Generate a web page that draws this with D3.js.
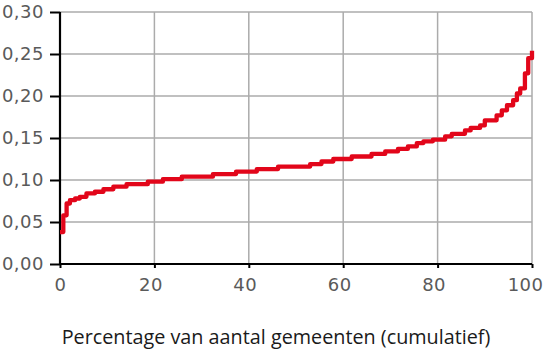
<!doctype html>
<html>
  <head>
    <script src="https://cdnjs.cloudflare.com/ajax/libs/d3/7.8.5/d3.min.js"></script>
    <style>
      body { margin: 0; background: #fff; }
    </style>
  </head>
  <body>
    <svg id="chart" width="544" height="356"></svg>
    <script>
        // cumulative % of municipalities (x) and value (y), step points
        var pct = [0, 0.7, 1.4, 2.1, 3.2, 4.2, 5.6, 7.4, 9.2, 11.3, 14.1, 18.6, 21.8, 25.8, 32.4, 37.3, 41.7, 46.2,
                   53.0, 55.4, 57.9, 61.8, 66.0, 68.9, 71.6, 73.7, 75.6, 77.0, 79.0, 81.6, 83.0, 85.8, 87.0, 89.0,
                   90.0, 92.5, 93.6, 94.7, 96.0, 96.8, 97.5, 98.5, 99.2, 100];
        var vals = [0.038, 0.058, 0.072, 0.076, 0.078, 0.080, 0.084, 0.086, 0.089, 0.092, 0.095, 0.098, 0.101, 0.104, 0.107, 0.110, 0.113, 0.116,
                    0.119, 0.122, 0.125, 0.128, 0.131, 0.134, 0.137, 0.140, 0.144, 0.146, 0.148, 0.152, 0.155, 0.159, 0.162, 0.165,
                    0.171, 0.177, 0.183, 0.189, 0.195, 0.203, 0.209, 0.227, 0.245, 0.254];
        var xTicks = [0, 20, 40, 60, 80, 100];
        var yTicks = [0, 0.05, 0.10, 0.15, 0.20, 0.25, 0.30];
        var xTitle = "Percentage van aantal gemeenten (cumulatief)";

        var svg = d3.select("#chart");
        var mLeft = 60, mRight = 532, mTop = 12, mBottom = 264;

        var xScale = d3.scaleLinear().domain([0, 100]).range([mLeft, mRight]);
        var yScale = d3.scaleLinear().domain([0, 0.30]).range([mBottom, mTop]);
        var fmt = d3.format(".2f");

        // grid
        svg.append("g").selectAll("line")
            .data(yTicks.slice(1))
            .enter().append("line")
            .attr("x1", mLeft).attr("x2", mRight)
            .attr("y1", d => yScale(d)).attr("y2", d => yScale(d))
            .attr("stroke", "#ababab").attr("stroke-width", 1.5);
        svg.append("g").selectAll("line")
            .data(xTicks.slice(1))
            .enter().append("line")
            .attr("x1", d => xScale(d)).attr("x2", d => xScale(d))
            .attr("y1", mTop).attr("y2", mBottom)
            .attr("stroke", "#ababab").attr("stroke-width", 1.5);

        // axes
        var yAxis = d3.axisLeft(yScale).tickValues(yTicks).tickSize(10).tickPadding(6)
            .tickFormat(d => fmt(d).replace(".", ","));
        var gy = svg.append("g").attr("transform", "translate(" + mLeft + ",0)").call(yAxis);

        var xAxis = d3.axisBottom(xScale).tickValues(xTicks).tickSize(4).tickPadding(10);
        var gx = svg.append("g").attr("transform", "translate(0," + mBottom + ")").call(xAxis);

        [gx, gy].forEach(function(g){
            g.select(".domain").attr("stroke", "#000").attr("stroke-width", 2.2);
            g.selectAll(".tick line").attr("stroke", "#000").attr("stroke-width", 2);
            g.selectAll("text")
                .attr("fill", "#5a5a5a")
                .style("font-family", "DejaVu Sans")
                .style("font-size", "18px")
                .style("letter-spacing", "0.5px");
        });
        gx.select(".domain").attr("d", "M" + mLeft + ",0H" + mRight);
        gy.select(".domain").attr("d", "M0," + mTop + "V" + mBottom);
        gx.selectAll(".tick text").attr("dx", d => d == 0 ? 0 : -4);
        gx.selectAll(".tick text").filter(d => d == 100)
            .attr("text-anchor", "end").attr("dx", 11);

        // line
        var line = d3.line()
            .x((d, i) => xScale(pct[i]))
            .y(d => yScale(d))
            .curve(d3.curveStepAfter);

        svg.append("path")
            .datum(vals)
            .attr("d", line)
            .attr("fill", "none")
            .attr("stroke", "#e2061a")
            .attr("stroke-width", 4.3)
            .attr("stroke-linejoin", "round");

        svg.append("text")
            .attr("x", 276)
            .attr("y", 344)
            .attr("text-anchor", "middle")
            .style("font-family", "Open Sans")
            .style("font-size", "19.8px")
            .attr("fill", "#1a1a1a")
            .text(xTitle);
    </script>
  </body>
</html>
